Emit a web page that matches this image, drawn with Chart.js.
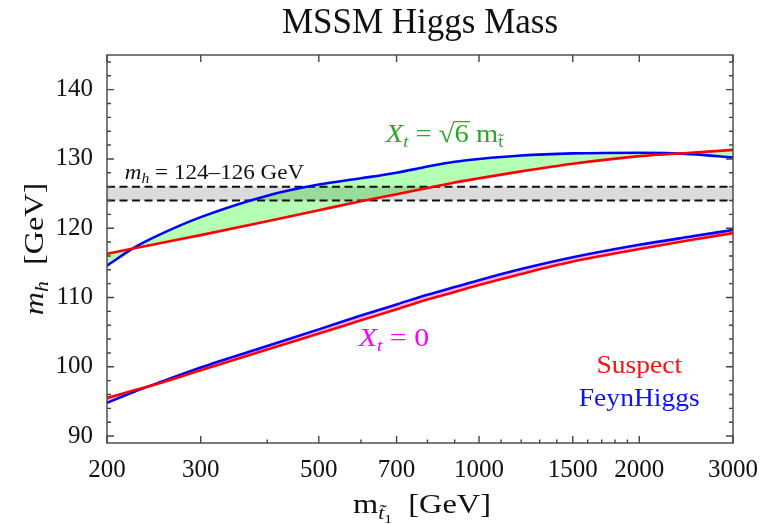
<!DOCTYPE html>
<html>
<head>
<meta charset="utf-8">
<script src="https://cdn.jsdelivr.net/npm/chart.js@4.4.0/dist/chart.umd.min.js"></script>
<style>
  html, body { margin: 0; padding: 0; background: #fff; }
  #wrap { width: 776px; height: 524px; }
</style>
</head>
<body>
<div id="wrap"><canvas id="myChart" width="776" height="524"></canvas></div>
<script>
// stop mass [GeV]
var stopMass = [200, 225, 250, 300, 400, 500, 600, 700, 800, 900, 1000, 1200, 1500, 2000, 2500, 3000];
// Xt = sqrt(6) mt
var suspectMax = [116.3, 117.1, 117.8, 119.0, 121.0, 122.6, 123.9, 124.9, 125.8, 126.6, 127.2, 128.2, 129.3, 130.4, 130.9, 131.3];
var feynMax    = [114.6, 117.2, 119.0, 121.6, 124.7, 126.3, 127.2, 128.0, 128.9, 129.6, 130.0, 130.5, 130.8, 130.9, 130.7, 130.2];
// Xt = 0
var suspectZero = [95.5, 96.6, 97.6, 99.5, 102.5, 104.8, 106.7, 108.3, 109.7, 110.8, 111.8, 113.4, 115.2, 117.0, 118.3, 119.3];
var feynZero    = [94.8, 96.4, 97.7, 99.9, 103.0, 105.4, 107.4, 109.0, 110.4, 111.5, 112.5, 114.1, 115.8, 117.6, 118.8, 119.75];
// measured higgs band
var bandX = [200, 3000];
var bandLow = [124, 124];
var bandHigh = [126, 126];

var xTicks = [200, 300, 500, 700, 1000, 1500, 2000, 3000];
var xMinor = [400, 600, 800, 900, 1100, 1200, 1300, 1400, 1600, 1700, 1800, 1900];
var yTicks = [90, 100, 110, 120, 130, 140];
var yMinor = [92, 94, 96, 98, 102, 104, 106, 108, 112, 114, 116, 118, 122, 124, 126, 128, 132, 134, 136, 138, 142, 144];

var serif = "'Liberation Serif', 'Times New Roman', serif";

function pts(xs, ys) {
  return xs.map(function(x, i) { return {x: x, y: ys[i]}; });
}

function curve(label, ys, color) {
  return {
    label: label, data: pts(stopMass, ys), borderColor: color, borderWidth: 2.6,
    pointRadius: 0, cubicInterpolationMode: 'monotone', fill: false, order: 1
  };
}

// draws a row of text pieces [text, font, dy, overline]
function drawRuns(ctx, x, y, runs, align, sx) {
  ctx.save();
  var w = 0;
  runs.forEach(function(r) { ctx.font = r[1]; w += ctx.measureText(r[0]).width; });
  ctx.translate(x, y);
  ctx.scale(sx || 1, 1);
  var cx = align === 'center' ? -w / 2 : 0;
  ctx.textBaseline = 'alphabetic';
  runs.forEach(function(r) {
    ctx.font = r[1];
    var rw = ctx.measureText(r[0]).width;
    ctx.fillText(r[0], cx, r[2] || 0);
    if (r[3]) {
      ctx.fillRect(cx - 1, -r[3], rw + 2, 1.3);
    }
    cx += rw;
  });
  ctx.restore();
}

var labels = [
  {x: 216, y: 127.1, color: '#111', runs: [['m', 'italic 22px ' + serif], ['h', 'italic 15px ' + serif, 4], [' = 124\u2013126 GeV', '22px ' + serif]], align: 'left', sx: 1.05},
  {x: 668, y: 132.45, color: '#2ca52c', runs: [['X', 'italic 26px ' + serif], ['t', 'italic 17px ' + serif, 5], [' = ', '26px ' + serif], ['\u221A', '26px ' + serif], ['6', '26px ' + serif, 0, 21], [' m', '26px ' + serif], ['t\u0303', '17px ' + serif, 5]], align: 'left', sx: 1.1},
  {x: 594, y: 102.95, color: '#ff00ff', runs: [['X', 'italic 26px ' + serif], ['t', 'italic 17px ' + serif, 5], [' = 0', '26px ' + serif]], align: 'left', sx: 1.15},
  {x: 2000, y: 99.1, color: '#ff1010', runs: [['Suspect', '26px ' + serif]], align: 'center', sx: 1.06},
  {x: 2000, y: 94.35, color: '#1010ff', runs: [['FeynHiggs', '26px ' + serif]], align: 'center', sx: 1.06}
];

var framePlugin = {
  id: 'frame',
  afterDatasetsDraw: function(chart) {
    var ctx = chart.ctx, a = chart.chartArea, x = chart.scales.x, y = chart.scales.y;
    ctx.save();
    ctx.strokeStyle = '#444';
    ctx.lineWidth = 1.4;
    ctx.strokeRect(a.left, a.top, a.right - a.left, a.bottom - a.top);
    ctx.beginPath();
    yTicks.forEach(function(v) {
      var p = y.getPixelForValue(v);
      ctx.moveTo(a.left, p); ctx.lineTo(a.left + 7, p);
      ctx.moveTo(a.right, p); ctx.lineTo(a.right - 7, p);
    });
    yMinor.forEach(function(v) {
      var p = y.getPixelForValue(v);
      ctx.moveTo(a.left, p); ctx.lineTo(a.left + 4, p);
      ctx.moveTo(a.right, p); ctx.lineTo(a.right - 4, p);
    });
    xTicks.forEach(function(v) {
      var p = x.getPixelForValue(v);
      ctx.moveTo(p, a.bottom); ctx.lineTo(p, a.bottom - 7);
      ctx.moveTo(p, a.top); ctx.lineTo(p, a.top + 7);
    });
    xMinor.forEach(function(v) {
      var p = x.getPixelForValue(v);
      ctx.moveTo(p, a.bottom); ctx.lineTo(p, a.bottom - 3.5);
    });
    ctx.stroke();
    ctx.restore();
  },
  afterDraw: function(chart) {
    var ctx = chart.ctx, a = chart.chartArea, x = chart.scales.x, y = chart.scales.y;
    ctx.fillStyle = '#111';
    drawRuns(ctx, (a.left + a.right) / 2, 33, [['MSSM Higgs Mass', '35px ' + serif]], 'center', 1);
    // x title
    drawRuns(ctx, (a.left + a.right) / 2 + 2, 513,
      [['m', '27px ' + serif], ['t\u0303', 'italic 18px ' + serif, 6], ['1', '13px ' + serif, 10], ['  [GeV]', '27px ' + serif]], 'center', 1.2);
    // y title
    ctx.save();
    ctx.translate(43, (a.top + a.bottom) / 2);
    ctx.rotate(-Math.PI / 2);
    drawRuns(ctx, 0, 0, [['m', 'italic 28px ' + serif], ['h', 'italic 19px ' + serif, 5], ['  [GeV]', '28px ' + serif]], 'center', 1.15);
    ctx.restore();
    labels.forEach(function(l) {
      ctx.fillStyle = l.color;
      drawRuns(ctx, x.getPixelForValue(l.x), y.getPixelForValue(l.y), l.runs, l.align, l.sx);
    });
  }
};

var tickFont = {family: serif, size: 25};

new Chart(document.getElementById('myChart'), {
  type: 'line',
  data: {
    datasets: [
      curve('Suspect', suspectMax, '#ff0000'),
      curve('FeynHiggs', feynMax, '#0000ff'),
      curve('Suspect Xt=0', suspectZero, '#ff0000'),
      curve('FeynHiggs Xt=0', feynZero, '#0000ff'),
      {
        label: 'green', data: pts(stopMass, feynMax), borderWidth: 0, borderColor: 'rgba(0,0,0,0)',
        pointRadius: 0, cubicInterpolationMode: 'monotone', fill: {target: 0},
        backgroundColor: '#b4ffb4', order: 5
      },
      {
        label: 'pink', data: pts(stopMass, feynZero), borderWidth: 0, borderColor: 'rgba(0,0,0,0)',
        pointRadius: 0, cubicInterpolationMode: 'monotone', fill: {target: 2},
        backgroundColor: '#ffb4ff', order: 5
      },
      {
        label: 'band low', data: pts(bandX, bandLow), borderColor: '#111', borderWidth: 2,
        borderDash: [8, 4.5], pointRadius: 0, fill: false, order: 3
      },
      {
        label: 'band high', data: pts(bandX, bandHigh), borderColor: '#111', borderWidth: 2,
        borderDash: [8, 4.5], pointRadius: 0, fill: {target: 6},
        backgroundColor: 'rgba(0,0,0,0.14)', order: 3
      }
    ]
  },
  options: {
    responsive: false,
    animation: false,
    layout: {padding: {top: 55, right: 43, left: 0, bottom: 0}},
    plugins: {legend: {display: false}, tooltip: {enabled: false}, title: {display: false}},
    scales: {
      x: {
        type: 'logarithmic', min: 200, max: 3000,
        grid: {display: false}, border: {display: false},
        ticks: {autoSkip: false, maxRotation: 0, padding: 4, font: tickFont, color: '#111',
          callback: function(v) { return String(v); }},
        afterBuildTicks: function(s) { s.ticks = xTicks.map(function(v) { return {value: v}; }); },
        afterFit: function(s) { s.height = 81; }
      },
      y: {
        min: 89, max: 145,
        grid: {display: false}, border: {display: false},
        ticks: {padding: 6, font: tickFont, color: '#111'},
        afterBuildTicks: function(s) { s.ticks = yTicks.map(function(v) { return {value: v}; }); },
        afterFit: function(s) { s.width = 107; }
      }
    }
  },
  plugins: [framePlugin]
});
</script>
</body>
</html>
